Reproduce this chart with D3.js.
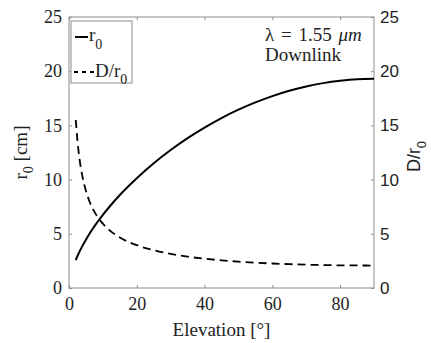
<!DOCTYPE html>
<html><head><meta charset="utf-8">
<script src="https://cdn.jsdelivr.net/npm/d3@7"></script>
<style>body{margin:0;background:#fff}svg{display:block}</style>
</head><body><svg id="c" width="431" height="343"></svg>
<script>
// Data
const elevation = [2,2.5,3,4,5,6,7,8,9,10,12,15,20,25,30,35,40,45,50,55,60,65,70,75,80,85,90];
const r0Values  = [2.58,2.95,3.29,3.91,4.46,4.98,5.46,5.91,6.34,6.75,7.52,8.58,10.13,11.51,12.73,13.83,14.80,15.68,16.45,17.12,17.70,18.19,18.59,18.90,19.12,19.26,19.30];
const dOverR0   = [15.50,13.56,12.16,10.23,8.97,8.03,7.33,6.77,6.31,5.93,5.32,4.66,3.95,3.48,3.14,2.89,2.70,2.55,2.43,2.34,2.26,2.20,2.15,2.12,2.09,2.08,2.07];
const xTicks = [0,20,40,60,80];
const yTicks = [0,5,10,15,20,25];
const yTicksRight = [0,5,10,15,20,25];

const svg = d3.select('#c');
const L = 69, R = 374, T = 17, B = 288;
const x = d3.scaleLinear().domain([0,90]).range([L,R]);
const y = d3.scaleLinear().domain([0,25]).range([B,T]);
const y2 = d3.scaleLinear().domain([0,25]).range([B,T]);
const axisColor = '#8c8c8c';
const serif = '"Liberation Serif", "DejaVu Serif", serif';
const sans = '"Liberation Sans", Arial, sans-serif';

// frame
svg.append('rect').attr('x',L).attr('y',T).attr('width',R-L).attr('height',B-T)
  .attr('fill','none').attr('stroke',axisColor).attr('stroke-width',1);

function styleAxis(g, font, size){
  g.attr('font-family',null).attr('font-size',null);
  g.select('.domain').remove();
  g.selectAll('.tick line').attr('stroke',axisColor);
  g.selectAll('.tick text').attr('fill','#222').style('font-family',font).style('font-size',size+'px');
}

const gx = svg.append('g').attr('transform',`translate(0,${B})`)
  .call(d3.axisBottom(x).tickValues(xTicks).tickSize(-3).tickPadding(9));
styleAxis(gx, serif, 18);
const gxt = svg.append('g').attr('transform',`translate(0,${T})`)
  .call(d3.axisTop(x).tickValues(xTicks).tickSize(-3).tickFormat(''));
styleAxis(gxt, serif, 18);
const gy = svg.append('g').attr('transform',`translate(${L},0)`)
  .call(d3.axisLeft(y).tickValues(yTicks).tickSize(-3).tickPadding(7));
styleAxis(gy, serif, 18);
const gy2 = svg.append('g').attr('transform',`translate(${R},0)`)
  .call(d3.axisRight(y2).tickValues(yTicksRight).tickSize(-3).tickPadding(6));
styleAxis(gy2, sans, 17);

// curves
const lineR0 = d3.line().x((d,i)=>x(elevation[i])).y(d=>y(d)).curve(d3.curveMonotoneX);
svg.append('path').datum(r0Values).attr('d',lineR0)
  .attr('fill','none').attr('stroke','#000').attr('stroke-width',2);
const lineD = d3.line().x((d,i)=>x(elevation[i])).y(d=>y2(d)).curve(d3.curveMonotoneX);
svg.append('path').datum(dOverR0).attr('d',lineD)
  .attr('fill','none').attr('stroke','#000').attr('stroke-width',1.8)
  .attr('stroke-dasharray','8,5');

// axis labels
svg.append('text').attr('x',(L+R)/2).attr('y',336).attr('text-anchor','middle')
  .style('font-family',serif).style('font-size','19px').attr('fill','#222')
  .text('Elevation [°]');

const ly = svg.append('text').attr('transform',`translate(27,${(T+B)/2}) rotate(-90)`)
  .attr('text-anchor','middle').style('font-family',serif).style('font-size','19px').attr('fill','#222');
ly.append('tspan').text('r');
ly.append('tspan').attr('dy',6).style('font-size','14px').text('0');
ly.append('tspan').attr('dy',-6).text(' [cm]');

const ry = svg.append('text').attr('transform',`translate(420,${(T+B)/2 + 4}) rotate(-90)`)
  .attr('text-anchor','middle').style('font-family',sans).style('font-size','18px').attr('fill','#222');
ry.append('tspan').text('D/r');
ry.append('tspan').attr('dy',6).style('font-size','13px').text('0');

// legend
svg.append('rect').attr('x',71).attr('y',21).attr('width',61).attr('height',62)
  .attr('fill','#fff').attr('stroke',axisColor).attr('stroke-width',1);
svg.append('line').attr('x1',75).attr('x2',88).attr('y1',37).attr('y2',37)
  .attr('stroke','#000').attr('stroke-width',2);
svg.append('line').attr('x1',74).attr('x2',94).attr('y1',72).attr('y2',72)
  .attr('stroke','#000').attr('stroke-width',1.8).attr('stroke-dasharray','4,4');
const t1 = svg.append('text').attr('x',89).attr('y',41).style('font-family',serif).style('font-size','19px').attr('fill','#222');
t1.append('tspan').text('r');
t1.append('tspan').attr('dy',8).style('font-size','14px').text('0');
const t2 = svg.append('text').attr('x',95).attr('y',77).style('font-family',serif).style('font-size','19px').attr('fill','#222');
t2.append('tspan').text('D/r');
t2.append('tspan').attr('dy',7).style('font-size','14px').text('0');

// annotation
const a1 = svg.append('text').attr('x',265).attr('y',41).style('font-family',serif).style('font-size','19px')
  .style('word-spacing','2px').attr('fill','#222');
a1.append('tspan').text('λ = 1.55 ');
a1.append('tspan').style('font-style','italic').text('μm');
svg.append('text').attr('x',265).attr('y',61).style('font-family',serif).style('font-size','19px').attr('fill','#222')
  .text('Downlink');
</script></body></html>
